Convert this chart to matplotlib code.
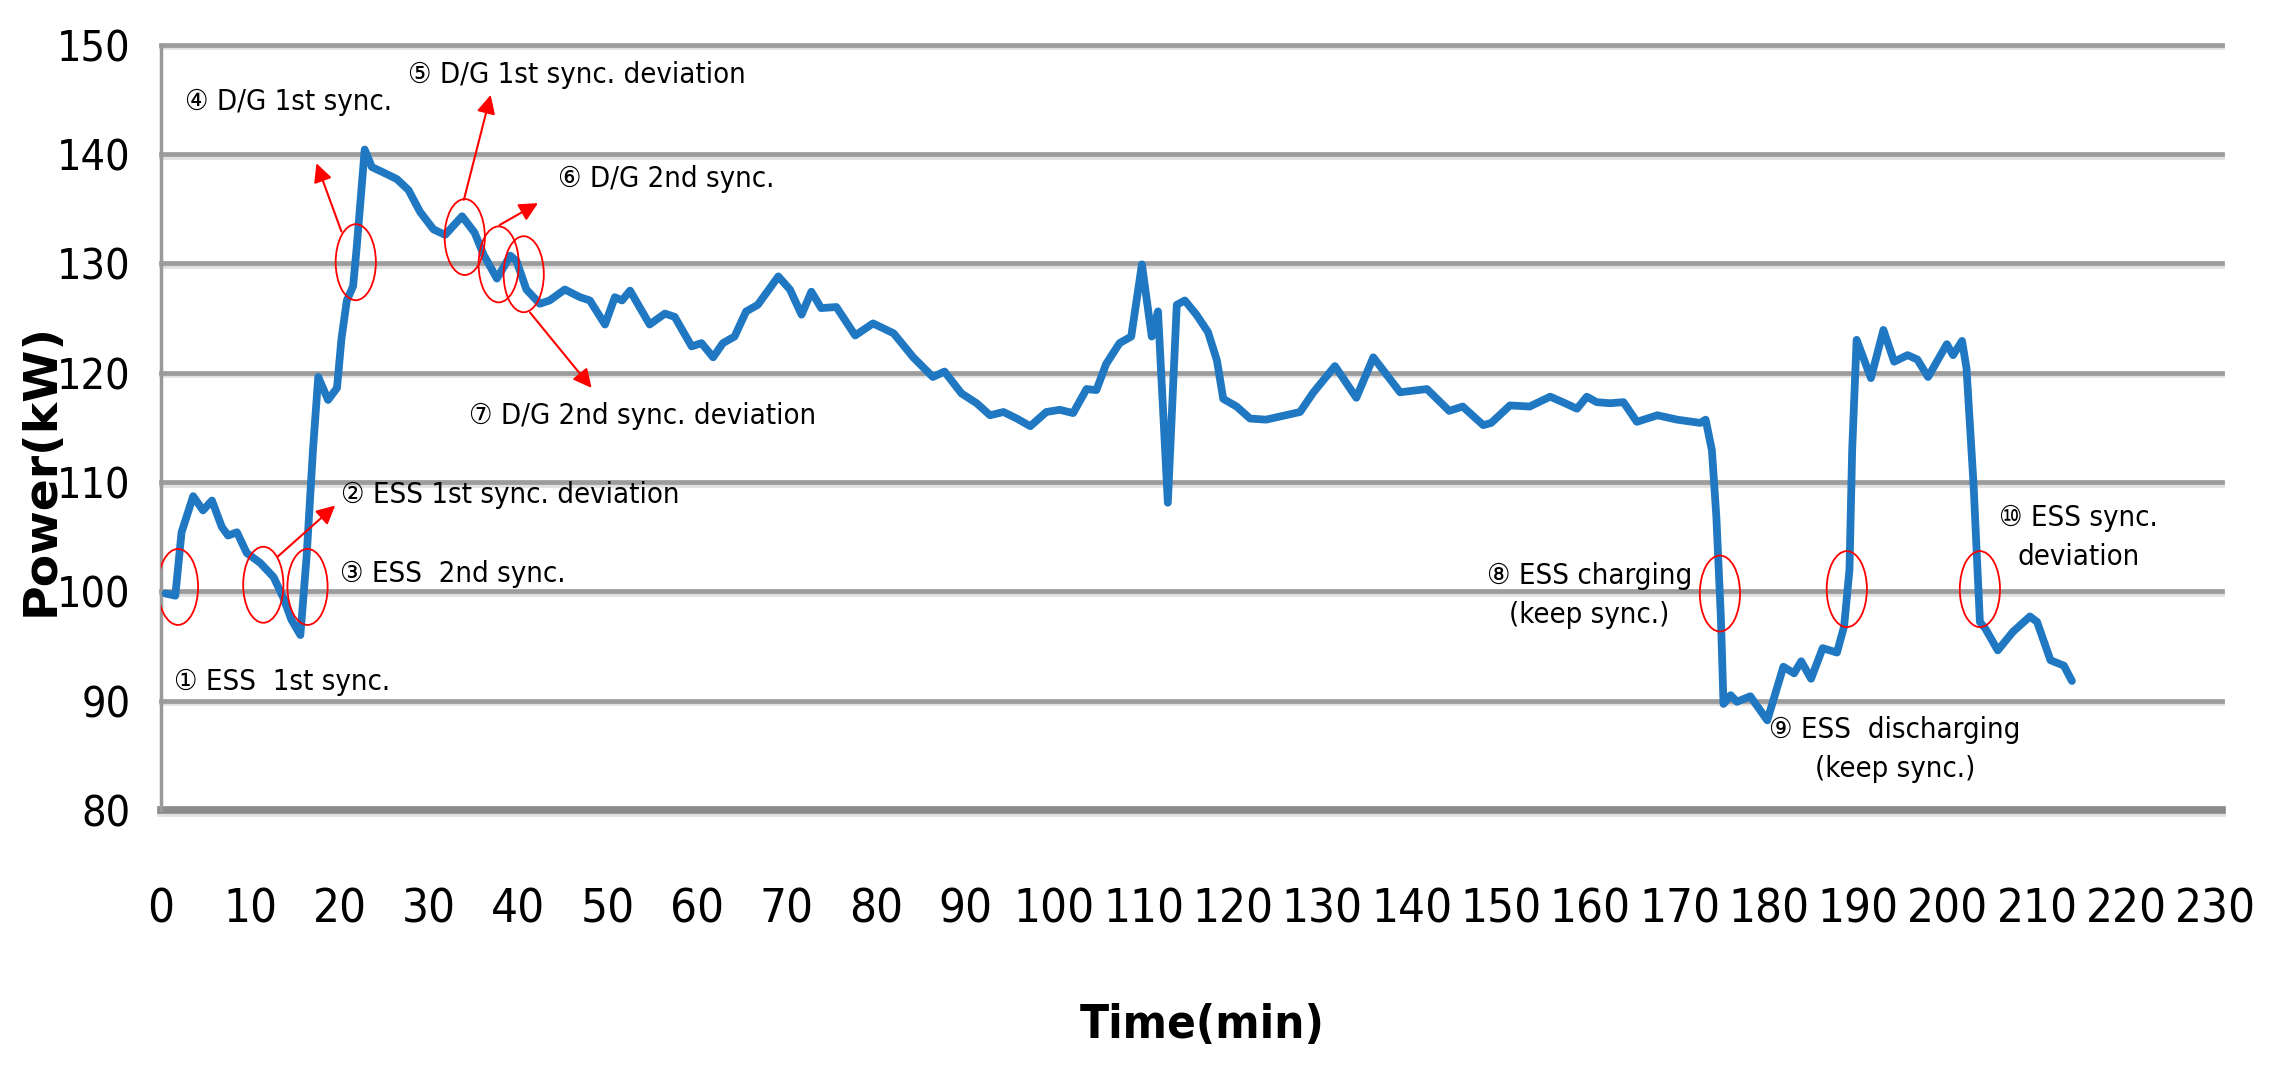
import matplotlib
matplotlib.use("Agg")
import matplotlib.pyplot as plt
import matplotlib.patheffects as pe
from matplotlib.patches import Ellipse
from matplotlib import font_manager as fm

# measured power curve
time_min = [0.5, 1.6, 2.3, 3.6, 4.7, 5.7, 6.8, 7.5, 8.5, 9.6, 11.1, 12.6, 13.7, 14.6, 15.6,
            16.3, 17.0, 17.6, 18.7, 19.7, 20.2, 20.8, 21.5, 21.9, 22.8, 23.6, 24.9, 26.4,
            27.7, 29.0, 30.5, 31.8, 33.7, 35.1, 36.1, 37.6, 39.1, 39.8, 40.9, 42.4, 43.5,
            45.2, 46.9, 48.0, 49.7, 50.8, 51.6, 52.5, 54.7, 56.4, 57.5, 59.4, 60.5, 61.8,
            62.9, 64.2, 65.5, 66.8, 69.1, 70.4, 71.7, 72.8, 73.9, 75.6, 77.7, 79.7, 82.0,
            84.2, 86.4, 87.7, 89.6, 91.3, 92.8, 94.3, 95.8, 97.3, 99.1, 100.6, 102.1, 103.6,
            104.7, 105.8, 107.3, 108.6, 109.8, 110.9, 111.6, 112.7, 113.7, 114.6, 115.9,
            117.2, 118.2, 118.9, 120.4, 121.9, 123.7, 127.5, 129.0, 131.4, 133.8, 135.7,
            137.2, 138.7, 141.7, 144.2, 145.7, 148.0, 148.9, 151.0, 153.2, 155.5, 156.9,
            158.5, 159.6, 160.7, 162.2, 163.7, 165.2, 167.5, 169.7, 172.3, 172.9, 173.6,
            174.1, 174.6, 174.9, 175.7, 176.4, 177.9, 179.8, 181.6, 182.8, 183.6, 184.7,
            186.0, 187.6, 188.4, 189.0, 189.3, 189.8, 191.4, 192.8, 194.0, 195.5, 196.6,
            197.8, 199.9, 200.6, 201.6, 202.1, 202.9, 203.6, 204.2, 205.6, 207.3, 209.2,
            210.0, 211.5, 213.0, 213.9]
power_kw = [99.8, 99.6, 105.4, 108.7, 107.4, 108.3, 105.9, 105.1, 105.4, 103.5, 102.6, 101.3,
            99.4, 97.4, 96.0, 103.2, 112.8, 119.6, 117.5, 118.6, 123.1, 126.6, 127.9, 131.4,
            140.4, 138.8, 138.3, 137.7, 136.7, 134.7, 133.1, 132.6, 134.3, 132.8, 130.8,
            128.6, 130.7, 130.2, 127.6, 126.3, 126.6, 127.6, 126.9, 126.6, 124.4, 126.9,
            126.6, 127.5, 124.4, 125.4, 125.1, 122.4, 122.7, 121.4, 122.7, 123.3, 125.6,
            126.2, 128.8, 127.6, 125.3, 127.4, 125.9, 126.0, 123.4, 124.5, 123.6, 121.4,
            119.6, 120.1, 118.1, 117.2, 116.1, 116.4, 115.8, 115.1, 116.4, 116.6, 116.3,
            118.5, 118.4, 120.8, 122.7, 123.3, 129.9, 123.3, 125.6, 108.1, 126.2, 126.6,
            125.3, 123.7, 121.1, 117.6, 116.9, 115.8, 115.7, 116.4, 118.2, 120.6, 117.7,
            121.4, 119.8, 118.2, 118.5, 116.5, 116.9, 115.2, 115.4, 117.0, 116.9, 117.8,
            117.3, 116.7, 117.8, 117.3, 117.2, 117.3, 115.5, 116.1, 115.7, 115.4, 115.7,
            112.9, 106.8, 97.7, 89.7, 90.5, 89.9, 90.4, 88.2, 93.1, 92.5, 93.6, 92.0, 94.8,
            94.4, 96.8, 102.0, 112.9, 123.0, 119.5, 123.9, 121.0, 121.6, 121.2, 119.6, 122.6,
            121.6, 122.9, 120.4, 109.6, 97.2, 96.6, 94.6, 96.3, 97.7, 97.2, 93.7, 93.2, 91.8]

x_ticks = list(range(0, 231, 10))
y_ticks = list(range(80, 151, 10))

# event markers (circles) and their labels
circle_t = [1.9, 11.45, 16.4, 21.8, 34.0, 37.8, 40.6, 174.5, 188.7, 203.6]
circle_p = [100.4, 100.6, 100.4, 130.1, 132.4, 129.9, 129.0, 99.8, 100.2, 100.2]

labels = ["① ESS  1st sync.", "② ESS 1st sync. deviation", "③ ESS  2nd sync.",
          "④ D/G 1st sync.", "⑤ D/G 1st sync. deviation", "⑥ D/G 2nd sync.",
          "⑦ D/G 2nd sync. deviation", "⑧ ESS charging\n(keep sync.)",
          "⑨ ESS  discharging\n(keep sync.)", "⑩ ESS sync.\ndeviation"]
label_pos = [(1.5, 91.7, "left"), (20.2, 108.8, "left"), (20.0, 101.6, "left"),
             (2.7, 144.75, "left"), (27.6, 147.2, "left"), (44.4, 137.7, "left"),
             (34.5, 116.0, "left"), (159.9, 99.6, "center"), (194.1, 85.5, "center"),
             (214.6, 104.95, "center")]

arrows = [((13.1, 103.2), (19.5, 107.85)), ((20.2, 132.9), (17.4, 139.15)),
          ((33.9, 135.8), (36.9, 145.4)), ((37.9, 133.5), (42.2, 135.5)),
          ((41.3, 125.5), (48.2, 118.6))]

names = {f.name for f in fm.fontManager.ttflist}
if "Liberation Sans Narrow" in names:
    narrow = ["Liberation Sans Narrow", "Noto Sans CJK KR"]
    stretch = "normal"
else:
    narrow = ["DejaVu Sans", "Noto Sans CJK KR"]
    stretch = "condensed"

fig = plt.figure(figsize=(22.69, 10.83), dpi=100)
ax = fig.add_axes([0.07096, 0.25208, 0.90833, 0.70674])
ax.set_xlim(0, 230.7)
ax.set_ylim(80, 150)

shadow = [pe.SimpleLineShadow(offset=(0, -2), shadow_color="black", alpha=0.12), pe.Normal()]
for y in y_ticks[1:]:
    ax.axhline(y, color="#9c9c9c", lw=3.4, zorder=1, clip_on=False, path_effects=shadow)
ax.axhline(80, color="#8a8a8a", lw=5.5, zorder=2, clip_on=False, path_effects=shadow)

for s in ["top", "right", "bottom"]:
    ax.spines[s].set_visible(False)
ax.spines["left"].set_color("#9a9a9a")
ax.spines["left"].set_linewidth(2.5)

ax.plot(time_min, power_kw, color="#1f78c1", lw=5.6, solid_joinstyle="round",
        solid_capstyle="round", zorder=3)

for t, p in zip(circle_t, circle_p):
    ax.add_patch(Ellipse((t, p), width=4.5, height=6.95, fill=False,
                         edgecolor="red", lw=1.3, zorder=4))

for tail, tip in arrows:
    ax.annotate("", xy=tip, xytext=tail,
                arrowprops=dict(arrowstyle="-|>", color="red", lw=1.5,
                                mutation_scale=28, shrinkA=0, shrinkB=0), zorder=5)

for text, (t, p, ha) in zip(labels, label_pos):
    ax.text(t, p, text, ha=ha, va="center", fontsize=21, family=narrow,
            fontstretch=stretch, linespacing=1.5, zorder=6)

ax.set_xticks(x_ticks)
ax.set_yticks(y_ticks)
ax.tick_params(axis="both", length=0)
ax.tick_params(axis="x", pad=56)
ax.tick_params(axis="y", pad=22)
for lab in ax.get_xticklabels():
    lab.set_fontsize(34)
    lab.set_family(narrow)
    lab.set_fontstretch(stretch)
for lab in ax.get_yticklabels():
    lab.set_fontsize(31)
    lab.set_family(narrow)
    lab.set_fontstretch(stretch)

fig.text(41 / 2269, 1 - 469 / 1083, "Power(kW)", rotation=90, fontsize=34,
         fontweight="bold", ha="center", va="center", family="DejaVu Sans")
fig.text(1202 / 2269, 1 - 1025 / 1083, "Time(min)", fontsize=34, fontweight="bold",
         ha="center", va="center", family=narrow, fontstretch=stretch)

fig.savefig("out.png", dpi=100, facecolor="white")
